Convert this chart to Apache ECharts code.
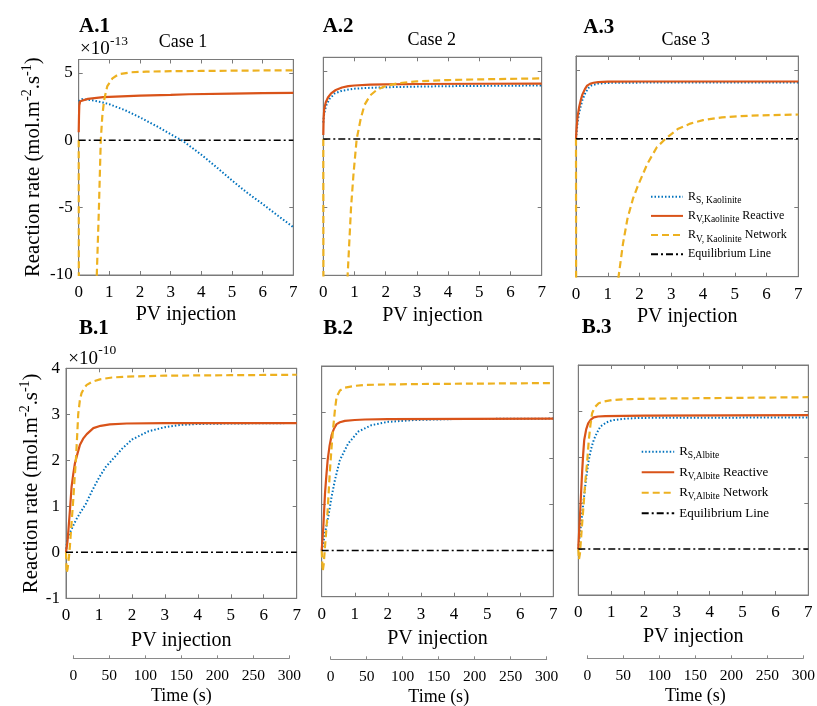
<!DOCTYPE html>
<html>
<head>
<meta charset="utf-8">
<script src="https://cdn.jsdelivr.net/npm/echarts@6.0.0/dist/echarts.min.js"></script>
<style>
html, body { margin: 0; padding: 0; background: #fff; }
#main { width: 817px; height: 706px; }
</style>
</head>
<body>
<div id="main"></div>
<script>
// ---- data: [PV injection, reaction rate] ----
// row A (Kaolinite) in units of 1e-13, row B (Albite) in units of 1e-10 mol.m-2.s-1
var A1_RS = [[0,2.9],[0.02,3.0],[0.1,3.05],[0.3,3.02],[0.5,2.95],[0.8,2.8],[1,2.68],[1.5,2.25],[2,1.7],[2.5,1.1],[3,0.45],[3.4,-0.05],[4,-1.07],[4.5,-2.0],[5,-2.98],[5.5,-3.9],[6,-4.73],[6.5,-5.6],[7,-6.45]];
var A1_RV = [[0,0.6],[0.01,1.8],[0.02,2.6],[0.05,2.9],[0.1,2.98],[0.3,3.08],[0.8,3.2],[1,3.22],[2,3.32],[3,3.38],[3.6,3.42],[5,3.47],[6,3.5],[7,3.52]];
var A1_RN = [[0,0],[0.015,-40],[0.5,-40],[0.56,-16],[0.59,-10],[0.66,-5],[0.72,0],[0.77,1.8],[0.83,3.0],[0.93,4.0],[1.1,4.6],[1.3,4.9],[1.7,5.05],[2.2,5.1],[3,5.13],[4,5.15],[5,5.17],[7,5.2]];

var A2_RS = [[0,1.2],[0.02,1.7],[0.05,2.1],[0.1,2.5],[0.2,2.95],[0.37,3.35],[0.6,3.55],[1,3.7],[1.5,3.76],[2,3.8],[3,3.85],[4,3.88],[5,3.9],[7,3.93]];
var A2_RV = [[0,0.3],[0.01,1.5],[0.03,2.2],[0.08,2.7],[0.15,3.05],[0.25,3.35],[0.4,3.6],[0.6,3.78],[0.8,3.88],[1,3.93],[1.5,3.99],[2,4.02],[3,4.04],[5,4.06],[7,4.07]];
var A2_RN = [[0,0],[0.015,-40],[0.6,-40],[0.72,-16],[0.78,-10],[0.89,-5],[0.97,-2.5],[1.07,0],[1.2,1.5],[1.32,2.5],[1.5,3.2],[1.71,3.6],[2,3.9],[2.4,4.1],[3,4.24],[4,4.33],[5,4.38],[6,4.42],[7,4.45]];

var A3_RS = [[0,0],[0.05,1.2],[0.1,1.9],[0.2,2.8],[0.3,3.35],[0.4,3.7],[0.5,3.88],[0.7,4.0],[1,4.05],[2,4.07],[7,4.08]];
var A3_RV = [[0,0],[0.02,0.8],[0.05,1.6],[0.1,2.3],[0.15,2.8],[0.2,3.2],[0.28,3.6],[0.35,3.85],[0.44,3.98],[0.55,4.06],[0.7,4.11],[1,4.14],[2,4.15],[7,4.15]];
var A3_RN = [[0,0],[0.015,-40],[1.2,-40],[1.27,-14],[1.34,-10],[1.48,-7.6],[1.62,-5.8],[1.8,-4.3],[1.95,-3.4],[2.25,-1.8],[2.55,-0.6],[2.82,0],[3.2,0.7],[3.6,1.1],[4,1.35],[4.6,1.55],[5.5,1.68],[7,1.76]];

var B1_RS = [[0,0],[0.03,0.25],[0.1,0.4],[0.2,0.55],[0.3,0.7],[0.45,0.88],[0.6,1.05],[0.8,1.35],[1.0,1.62],[1.2,1.85],[1.45,2.05],[1.7,2.25],[2.0,2.45],[2.5,2.63],[3,2.72],[3.5,2.77],[4,2.79],[5,2.8],[7,2.81]];
var B1_RV = [[0,0],[0.04,0.2],[0.07,0.45],[0.12,0.92],[0.17,1.43],[0.22,1.7],[0.27,1.93],[0.35,2.15],[0.42,2.33],[0.52,2.47],[0.63,2.57],[0.83,2.7],[1.05,2.75],[1.33,2.78],[1.84,2.8],[3,2.81],[7,2.81]];
var B1_RN = [[0,0],[0.02,-0.45],[0.05,-0.35],[0.09,-0.1],[0.12,0.15],[0.17,0.65],[0.22,1.14],[0.26,1.6],[0.3,2.0],[0.34,2.55],[0.37,3.0],[0.42,3.3],[0.47,3.46],[0.55,3.57],[0.63,3.64],[0.8,3.71],[1.03,3.76],[1.4,3.8],[1.84,3.82],[3,3.84],[5,3.85],[7,3.86]];

var B2_RS = [[0,0],[0.02,0.05],[0.1,0.38],[0.2,0.74],[0.3,1.17],[0.4,1.53],[0.55,1.96],[0.8,2.32],[1.11,2.58],[1.51,2.72],[2.01,2.79],[2.8,2.83],[4,2.85],[7,2.86]];
var B2_RV = [[0,0],[0.02,0.2],[0.05,0.52],[0.1,1.24],[0.14,1.62],[0.18,1.96],[0.24,2.28],[0.3,2.5],[0.37,2.64],[0.45,2.74],[0.55,2.78],[0.7,2.81],[1.0,2.83],[1.31,2.84],[2,2.85],[7,2.86]];
var B2_RN = [[0,0],[0.03,-0.45],[0.06,-0.3],[0.1,0.09],[0.14,0.45],[0.18,0.88],[0.25,1.75],[0.3,2.25],[0.35,2.68],[0.4,3.05],[0.45,3.33],[0.55,3.47],[0.7,3.53],[1.0,3.57],[1.31,3.59],[2,3.6],[3,3.61],[7,3.63]];

var B3_RS = [[0,0],[0.03,0.2],[0.11,0.71],[0.16,1.05],[0.21,1.36],[0.26,1.65],[0.32,1.94],[0.39,2.18],[0.47,2.37],[0.57,2.53],[0.67,2.66],[0.85,2.75],[1.03,2.8],[1.4,2.83],[1.84,2.85],[7,2.86]];
var B3_RV = [[0,0],[0.02,0.3],[0.06,0.85],[0.09,1.3],[0.12,1.72],[0.15,2.08],[0.18,2.37],[0.24,2.6],[0.3,2.73],[0.38,2.81],[0.47,2.86],[0.6,2.88],[0.82,2.89],[2,2.9],[7,2.91]];
var B3_RN = [[0,0],[0.02,-0.23],[0.05,-0.1],[0.11,0.49],[0.16,0.95],[0.21,1.43],[0.27,1.9],[0.32,2.37],[0.37,2.7],[0.42,2.95],[0.5,3.08],[0.62,3.17],[0.8,3.21],[1.03,3.24],[1.6,3.26],[2.34,3.27],[4,3.28],[7,3.3]];

var EQ_LINE = [[0,0],[7,0]];

var PANEL_LABELS = ['A.1','A.2','A.3','B.1','B.2','B.3'];
var CASE_TITLES = ['Case 1','Case 2','Case 3'];
var EXPONENTS = ['-13', '-10'];
var LEGEND_A = ['RS_K','RV_K','RN_K','EQ_K'];
var LEGEND_B = ['RS_A','RV_A','RN_A','EQ_A'];
var LEGEND_TEXT = {
    RS_K: '{m|R}{s|S, Kaolinite}',
    RV_K: '{m|R}{s|V,Kaolinite}{m| Reactive}',
    RN_K: '{m|R}{s|V, Kaolinite}{m| Network}',
    EQ_K: '{m|Equilibrium Line}',
    RS_A: '{m|R}{s|S,Albite}',
    RV_A: '{m|R}{s|V,Albite}{m| Reactive}',
    RN_A: '{m|R}{s|V,Albite}{m| Network}',
    EQ_A: '{m|Equilibrium Line}'
};

// ---- layout ----
var FONT = 'Liberation Serif';
var GRAY = '#7a7a7a';
var layout = [
    {left: 78.7, top: 59.5, width: 214.6, height: 215.5},
    {left: 323.3, top: 57.3, width: 218.4, height: 218},
    {left: 576, top: 56, width: 222.3, height: 220.7},
    {left: 66, top: 368.3, width: 230.7, height: 230},
    {left: 321.7, top: 366, width: 231.6, height: 230.7},
    {left: 578.3, top: 365, width: 230, height: 230}
];
var timeLayout = [
    {left: 73.3, top: 657.3, width: 216},
    {left: 330.7, top: 658.3, width: 216},
    {left: 587.3, top: 657.3, width: 216}
];
var lineStyles = [
    {color: '#0072BD', width: 2, type: [1.5, 2]},
    {color: '#D95319', width: 2.2, type: 'solid'},
    {color: '#EDB120', width: 2.2, type: [7, 4]},
    {color: '#000000', width: 1.4, type: [7, 3, 2, 3]}
];

var panelData = [
    [A1_RS, A1_RV, A1_RN, EQ_LINE],
    [A2_RS, A2_RV, A2_RN, EQ_LINE],
    [A3_RS, A3_RV, A3_RN, EQ_LINE],
    [B1_RS, B1_RV, B1_RN, EQ_LINE],
    [B2_RS, B2_RV, B2_RN, EQ_LINE],
    [B3_RS, B3_RV, B3_RN, EQ_LINE]
];

var grids = [], xAxes = [], yAxes = [], series = [];

function tickStyle() {
    return {show: true, inside: true, length: 4, lineStyle: {color: GRAY, width: 1}};
}
function txt(size, extra) {
    var s = {fontFamily: FONT, fontSize: size, color: '#000', fontWeight: 'normal', fontStyle: 'normal'};
    for (var key in extra) { s[key] = extra[key]; }
    return s;
}

for (var i = 0; i < 6; i++) {
    var rowA = i < 3;
    var firstCol = (i % 3) === 0;
    var g = layout[i];
    grids.push({left: g.left, top: g.top, width: g.width, height: g.height,
        show: true, borderColor: GRAY, borderWidth: 1, backgroundColor: '#fff',
        containLabel: false, outerBoundsMode: 'none'});

    xAxes.push({
        type: 'value', gridIndex: i, position: 'bottom', min: 0, max: 7, interval: 1,
        axisLine: {show: true, onZero: false, lineStyle: {color: GRAY, width: 1}},
        axisTick: tickStyle(), splitLine: {show: false},
        axisLabel: txt(17, {margin: 9}),
        name: 'PV injection', nameLocation: 'middle', nameGap: rowA ? 30 : 32,
        nameMoveOverlap: false,
        nameTextStyle: txt(20)
    });
    xAxes.push({
        type: 'value', gridIndex: i, position: 'top', min: 0, max: 7, interval: 1,
        axisLine: {show: true, onZero: false, lineStyle: {color: GRAY, width: 1}},
        axisTick: tickStyle(), splitLine: {show: false}, axisLabel: {show: false}
    });

    var yl = {
        type: 'value', gridIndex: i, position: 'left',
        min: rowA ? -10 : -1, max: rowA ? 6 : 4, interval: rowA ? 5 : 1,
        axisLine: {show: true, onZero: false, lineStyle: {color: GRAY, width: 1}},
        axisTick: tickStyle(), splitLine: {show: false},
        axisLabel: txt(17, {show: firstCol, margin: 6, showMaxLabel: !rowA})
    };
    if (firstCol) {
        yl.name = '{m|Reaction rate (mol.m}{p|-2}{m|.s}{p|-1}{m|)}';
        yl.nameLocation = 'middle';
        yl.nameRotate = 90;
        yl.nameGap = rowA ? 32.5 : 21.5;
        yl.nameMoveOverlap = false;
        yl.nameTextStyle = txt(20.8, {
            rich: {
                m: txt(20.8, {lineHeight: 26, verticalAlign: 'middle'}),
                p: txt(14, {lineHeight: 14, verticalAlign: 'top'})
            }
        });
    }
    yAxes.push(yl);
    yAxes.push({
        type: 'value', gridIndex: i, position: 'right',
        min: rowA ? -10 : -1, max: rowA ? 6 : 4, interval: rowA ? 5 : 1,
        axisLine: {show: true, onZero: false, lineStyle: {color: GRAY, width: 1}},
        axisTick: tickStyle(), splitLine: {show: false}, axisLabel: {show: false}
    });

    var names = rowA ? LEGEND_A : LEGEND_B;
    for (var k = 0; k < 4; k++) {
        series.push({
            type: 'line', name: names[k], xAxisIndex: 2 * i, yAxisIndex: 2 * i,
            data: panelData[i][k], symbol: 'none', showSymbol: false, clip: true,
            silent: true, animation: false, z: 2 + k,
            color: lineStyles[k].color,
            itemStyle: {color: lineStyles[k].color},
            lineStyle: lineStyles[k]
        });
    }
}

// time axes under the bottom row
for (var j = 0; j < 3; j++) {
    var t = timeLayout[j];
    grids.push({left: t.left, top: t.top, width: t.width, height: 1, show: false,
        containLabel: false, outerBoundsMode: 'none'});
    xAxes.push({
        type: 'value', gridIndex: 6 + j, position: 'bottom', min: 0, max: 300, interval: 50,
        axisLine: {show: true, onZero: false, lineStyle: {color: '#8a8a8a', width: 1}},
        axisTick: {show: true, inside: true, length: 3, lineStyle: {color: '#8a8a8a'}},
        splitLine: {show: false},
        axisLabel: txt(15.5, {margin: 10}),
        name: 'Time (s)', nameLocation: 'middle', nameGap: 29, nameMoveOverlap: false,
        nameTextStyle: txt(18)
    });
    yAxes.push({type: 'value', gridIndex: 6 + j, show: false, min: 0, max: 1});
}

function legendRich(size) {
    return {
        m: txt(size, {lineHeight: 18, verticalAlign: 'middle'}),
        s: txt(9.5, {lineHeight: 12, verticalAlign: 'bottom'})
    };
}
function legendFmt(name) { return LEGEND_TEXT[name]; }

var graphics = [];
var labelPos = [[79, 27], [322.7, 27], [583.3, 27.5], [79, 329], [323.3, 329], [581.7, 328]];
for (var p = 0; p < 6; p++) {
    graphics.push({type: 'text', x: labelPos[p][0], y: labelPos[p][1], silent: true,
        style: {text: PANEL_LABELS[p], fontFamily: FONT, fontSize: 21, fontWeight: 'bold',
            fill: '#000', align: 'left', verticalAlign: 'middle'}});
}
var casePos = [[183, 42], [431.7, 40], [685.8, 40]];
for (var c = 0; c < 3; c++) {
    graphics.push({type: 'text', x: casePos[c][0], y: casePos[c][1], silent: true,
        style: {text: CASE_TITLES[c], fontFamily: FONT, fontSize: 18, fill: '#000',
            align: 'center', verticalAlign: 'middle'}});
}
// x10^n multipliers above the first column
var expPos = [[80, 49, 110, 41], [68.3, 359, 98.3, 350]];
for (var e = 0; e < 2; e++) {
    graphics.push({type: 'text', x: expPos[e][0], y: expPos[e][1], silent: true,
        style: {text: '\u00d710', fontFamily: FONT, fontSize: 19, fill: '#000', align: 'left', verticalAlign: 'middle'}});
    graphics.push({type: 'text', x: expPos[e][2], y: expPos[e][3], silent: true,
        style: {text: EXPONENTS[e], fontFamily: FONT, fontSize: 13.5, fill: '#000', align: 'left', verticalAlign: 'middle'}});
}

var legendBase = {
    orient: 'vertical', padding: 0, itemHeight: 18, selectedMode: false, formatter: legendFmt,
    itemStyle: {color: 'rgba(0,0,0,0)', borderColor: 'rgba(0,0,0,0)', borderWidth: 0, opacity: 0}
};
var legendA = Object.assign({}, legendBase, {left: 650, top: 187.7, itemWidth: 32, itemGap: 1.2, data: LEGEND_A,
    textStyle: txt(12, {lineHeight: 18, rich: legendRich(12)})});
var legendB = Object.assign({}, legendBase, {left: 640.7, top: 442.7, itemWidth: 32.5, itemGap: 2.5, data: LEGEND_B,
    textStyle: txt(13, {lineHeight: 18, rich: legendRich(13)})});

var option = {
    backgroundColor: '#ffffff',
    animation: false,
    textStyle: {fontFamily: FONT},
    grid: grids,
    xAxis: xAxes,
    yAxis: yAxes,
    series: series,
    legend: [legendA, legendB],
    graphic: graphics
};

var chart = echarts.init(document.getElementById('main'), null, {renderer: 'canvas'});
chart.setOption(option);
</script>
</body>
</html>
